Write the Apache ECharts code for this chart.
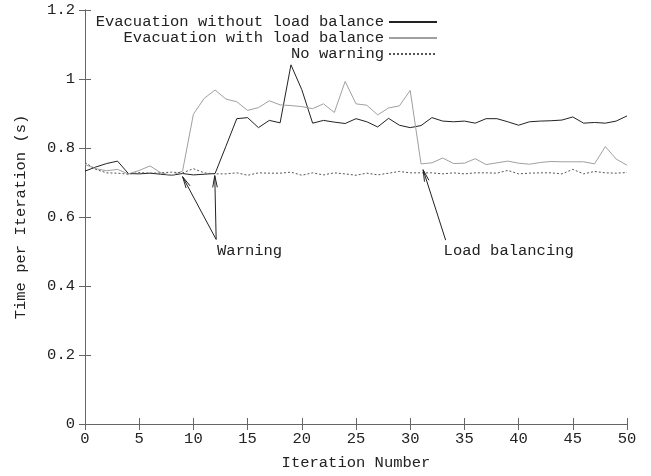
<!DOCTYPE html>
<html>
<head>
<meta charset="utf-8">
<script src="https://cdn.jsdelivr.net/npm/echarts@6/dist/echarts.min.js"></script>
<style>
  html, body { margin: 0; padding: 0; background: #fff; }
  #chart { width: 651px; height: 476px; }
</style>
</head>
<body>
<div id="chart"></div>
<script>
// Iteration numbers 0..50
const iterations = [
  0, 1, 2, 3, 4, 5, 6, 7, 8, 9, 10, 11, 12, 13, 14, 15, 16, 17, 18, 19, 20,
  21, 22, 23, 24, 25, 26, 27, 28, 29, 30, 31, 32, 33, 34, 35, 36, 37, 38, 39, 40,
  41, 42, 43, 44, 45, 46, 47, 48, 49, 50
];

// Time per iteration (s), evacuation without load balance
const evacNoBalance = [
  0.733, 0.745, 0.755, 0.762, 0.726, 0.725, 0.727, 0.724, 0.721, 0.726, 0.722,
  0.724, 0.726, 0.805, 0.885, 0.888, 0.859, 0.880, 0.873, 1.041, 0.969,
  0.872, 0.880, 0.875, 0.871, 0.885, 0.876, 0.861, 0.886, 0.866, 0.859,
  0.865, 0.888, 0.878, 0.876, 0.878, 0.872, 0.885, 0.885, 0.876, 0.866,
  0.876, 0.878, 0.879, 0.881, 0.890, 0.872, 0.874, 0.872, 0.878, 0.893
];

// Time per iteration (s), evacuation with load balance
const evacWithBalance = [
  0.752, 0.740, 0.734, 0.738, 0.725, 0.735, 0.748, 0.728, 0.721, 0.733, 0.898,
  0.944, 0.968, 0.942, 0.934, 0.909, 0.917, 0.937, 0.925, 0.923, 0.920,
  0.914, 0.928, 0.903, 0.993, 0.928, 0.924, 0.896, 0.916, 0.922, 0.967,
  0.754, 0.757, 0.771, 0.755, 0.756, 0.769, 0.752, 0.757, 0.762, 0.756,
  0.753, 0.758, 0.761, 0.760, 0.760, 0.760, 0.754, 0.804, 0.768, 0.750
];

// Time per iteration (s), no warning issued
const noWarning = [
  0.758, 0.738, 0.728, 0.727, 0.724, 0.729, 0.727, 0.728, 0.730, 0.728, 0.740,
  0.728, 0.725, 0.725, 0.728, 0.721, 0.728, 0.727, 0.727, 0.730, 0.721,
  0.728, 0.722, 0.728, 0.725, 0.721, 0.727, 0.722, 0.727, 0.732, 0.728,
  0.728, 0.728, 0.725, 0.728, 0.725, 0.728, 0.728, 0.727, 0.735, 0.725,
  0.727, 0.728, 0.728, 0.725, 0.738, 0.725, 0.732, 0.728, 0.727, 0.729
];

const seriesNames = [
  'Evacuation without load balance',
  'Evacuation with load balance',
  'No warning'
];

// Annotation arrows: [fromX, fromY, toX, toY] in data units
const warningArrows = [
  [12.1, 0.535, 9.0, 0.717],
  [12.1, 0.535, 11.97, 0.720]
];
const balancingArrows = [
  [33.27, 0.533, 31.19, 0.737]
];
// Annotation texts: [x, y, text]
const notes = [
  [12.18, 0.502, 'Warning'],
  [33.08, 0.502, 'Load balancing']
];

const FONT_FAMILY = '"Liberation Mono", "DejaVu Sans Mono", monospace';
const FONT_SIZE = 15.5;
const TEXT_COLOR = '#222';
const AXIS_COLOR = '#666';

function pairs(ys) {
  return iterations.map((x, i) => [x, ys[i]]);
}

// Draws a straight arrow with an open V head through the cartesian scales
function renderArrow(params, api) {
  const p0 = api.coord([api.value(0), api.value(1)]);
  const p1 = api.coord([api.value(2), api.value(3)]);
  const ang = Math.atan2(p1[1] - p0[1], p1[0] - p0[0]);
  const headLen = 12;
  const spread = 11 * Math.PI / 180;
  const h1 = [p1[0] - headLen * Math.cos(ang - spread), p1[1] - headLen * Math.sin(ang - spread)];
  const h2 = [p1[0] - headLen * Math.cos(ang + spread), p1[1] - headLen * Math.sin(ang + spread)];
  const stroke = { stroke: '#222', lineWidth: 1, fill: null };
  return {
    type: 'group',
    children: [
      { type: 'line', shape: { x1: p0[0], y1: p0[1], x2: p1[0], y2: p1[1] }, style: stroke },
      { type: 'polyline', shape: { points: [h1, p1, h2] }, style: stroke }
    ]
  };
}

function renderNote(params, api) {
  const p = api.coord([api.value(0), api.value(1)]);
  return {
    type: 'text',
    style: {
      text: notes[params.dataIndex][2],
      x: p[0],
      y: p[1],
      textAlign: 'left',
      textVerticalAlign: 'middle',
      font: FONT_SIZE + 'px ' + FONT_FAMILY,
      fill: TEXT_COLOR
    }
  };
}

const chart = echarts.init(document.getElementById('chart'), null, { renderer: 'canvas' });

const labelStyle = { fontFamily: FONT_FAMILY, fontSize: FONT_SIZE, color: TEXT_COLOR };

chart.setOption({
  animation: false,
  backgroundColor: '#fff',
  textStyle: { fontFamily: FONT_FAMILY },
  grid: { left: 85, right: 24, top: 10, bottom: 48, containLabel: false },
  legend: {
    data: seriesNames,
    orient: 'vertical',
    right: 213,
    top: 14,
    align: 'right',
    padding: 0,
    itemWidth: 48,
    itemHeight: 14,
    itemGap: 0,
    itemStyle: { opacity: 0 },
    textStyle: Object.assign({}, labelStyle),
    selectedMode: false
  },
  xAxis: [
    {
      type: 'value',
      min: 0, max: 50, interval: 5,
      name: 'Iteration Number',
      nameLocation: 'middle',
      nameGap: 31,
      nameTextStyle: Object.assign({}, labelStyle),
      axisLine: { show: true, lineStyle: { color: AXIS_COLOR } },
      axisTick: { show: true, inside: true, length: 6, lineStyle: { color: AXIS_COLOR } },
      axisLabel: Object.assign({ margin: 7 }, labelStyle),
      splitLine: { show: false }
    },
    {
      type: 'value',
      position: 'top',
      min: 0, max: 50, interval: 5,
      axisLine: { show: true, lineStyle: { color: AXIS_COLOR } },
      axisTick: { show: true, inside: true, length: 6, lineStyle: { color: AXIS_COLOR } },
      axisLabel: { show: false },
      splitLine: { show: false }
    }
  ],
  yAxis: [
    {
      type: 'value',
      min: 0, max: 1.2, interval: 0.2,
      name: 'Time per Iteration (s)',
      nameLocation: 'middle',
      nameRotate: 90,
      nameGap: 56,
      nameTextStyle: Object.assign({}, labelStyle),
      axisLine: { show: true, lineStyle: { color: AXIS_COLOR } },
      axisTick: { show: true, inside: true, length: 6, lineStyle: { color: AXIS_COLOR } },
      axisLabel: Object.assign({ margin: 10 }, labelStyle),
      splitLine: { show: false }
    },
    {
      type: 'value',
      position: 'right',
      min: 0, max: 1.2, interval: 0.2,
      axisLine: { show: true, lineStyle: { color: AXIS_COLOR } },
      axisTick: { show: true, inside: true, length: 6, lineStyle: { color: AXIS_COLOR } },
      axisLabel: { show: false },
      splitLine: { show: false }
    }
  ],
  series: [
    {
      name: seriesNames[0],
      type: 'line',
      data: pairs(evacNoBalance),
      symbol: 'none',
      color: '#222',
      lineStyle: { color: '#222', width: 1 },
      emphasis: { disabled: true }
    },
    {
      name: seriesNames[1],
      type: 'line',
      data: pairs(evacWithBalance),
      symbol: 'none',
      color: '#a0a0a0',
      lineStyle: { color: '#a0a0a0', width: 1 },
      emphasis: { disabled: true }
    },
    {
      name: seriesNames[2],
      type: 'line',
      data: pairs(noWarning),
      symbol: 'none',
      color: '#555',
      lineStyle: { color: '#555', width: 1, type: [2, 2] },
      emphasis: { disabled: true }
    },
    {
      name: 'warning-arrows',
      type: 'custom',
      renderItem: renderArrow,
      data: warningArrows,
      silent: true,
      z: 5
    },
    {
      name: 'balancing-arrows',
      type: 'custom',
      renderItem: renderArrow,
      data: balancingArrows,
      silent: true,
      z: 5
    },
    {
      name: 'notes',
      type: 'custom',
      renderItem: renderNote,
      data: notes.map(n => [n[0], n[1]]),
      silent: true,
      z: 5
    }
  ]
});
</script>
</body>
</html>
